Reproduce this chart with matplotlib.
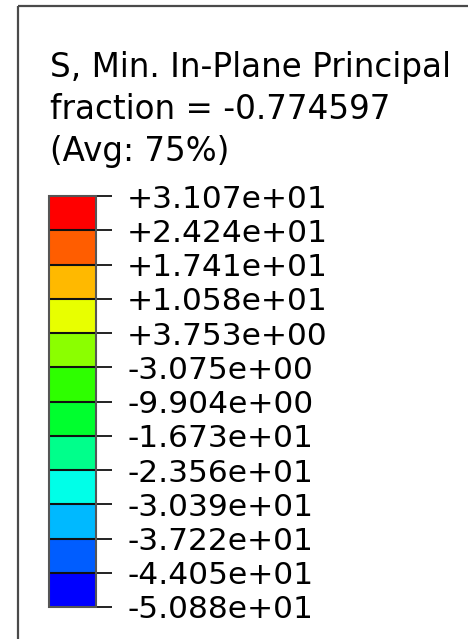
"""
Abaqus-style contour legend: S, Min. In-Plane Principal.
"""
import matplotlib
matplotlib.use("Agg")
import matplotlib.pyplot as plt
import matplotlib.colors as mcolors
from matplotlib.patches import Rectangle

title_lines = ["S, Min. In-Plane Principal", "fraction = -0.774597", "(Avg: 75%)"]
levels = [31.07, 24.24, 17.41, 10.58, 3.753, -3.075, -9.904,
          -16.73, -23.56, -30.39, -37.22, -44.05, -50.88]
# band colours, bottom (min) to top (max)
band_colors = ["#0000ff", "#005dff", "#00b9ff", "#00ffe8", "#00ff8b", "#00ff2e",
               "#2eff00", "#8bff00", "#e8ff00", "#ffb900", "#ff5d00", "#ff0000"]

W, H = 468, 639
fig = plt.figure(figsize=(W / 100, H / 100), dpi=100)
fig.patch.set_facecolor("white")

# full-figure axes in pixel coordinates for the frame and header text
bg = fig.add_axes([0, 0, 1, 1])
bg.set_xlim(0, W)
bg.set_ylim(H, 0)
bg.axis("off")
bg.add_patch(Rectangle((18, 6), W, H, fill=False, ec="#4a4a4a", lw=1.6))
for i, line in enumerate(title_lines):
    bg.text(50, 77 + 42 * i, line, fontsize=23.5, family="DejaVu Sans",
            ha="left", va="baseline", color="black")

# colour bar
bounds = sorted(levels)
cmap = mcolors.ListedColormap(band_colors)
norm = mcolors.BoundaryNorm(bounds, cmap.N)
cax = fig.add_axes([49 / W, 1 - 607 / H, 47 / W, 411 / H])
sm = plt.cm.ScalarMappable(norm=norm, cmap=cmap)
cb = fig.colorbar(sm, cax=cax, boundaries=bounds, ticks=bounds,
                  spacing="uniform", drawedges=True)
cb.outline.set_edgecolor("#555555")
cb.outline.set_linewidth(1.5)
cb.dividers.set_color("#111111")
cb.dividers.set_linewidth(1.5)
cax.yaxis.set_ticks_position("right")
cax.tick_params(axis="y", length=11.5, width=1.3, color="#111111", pad=11,
                labelsize=22.5)
cb.set_ticklabels(["{:+.3e}".format(v) for v in bounds])
for t in cax.get_yticklabels():
    t.set_family("DejaVu Sans")

fig.savefig("out.png", dpi=100)
